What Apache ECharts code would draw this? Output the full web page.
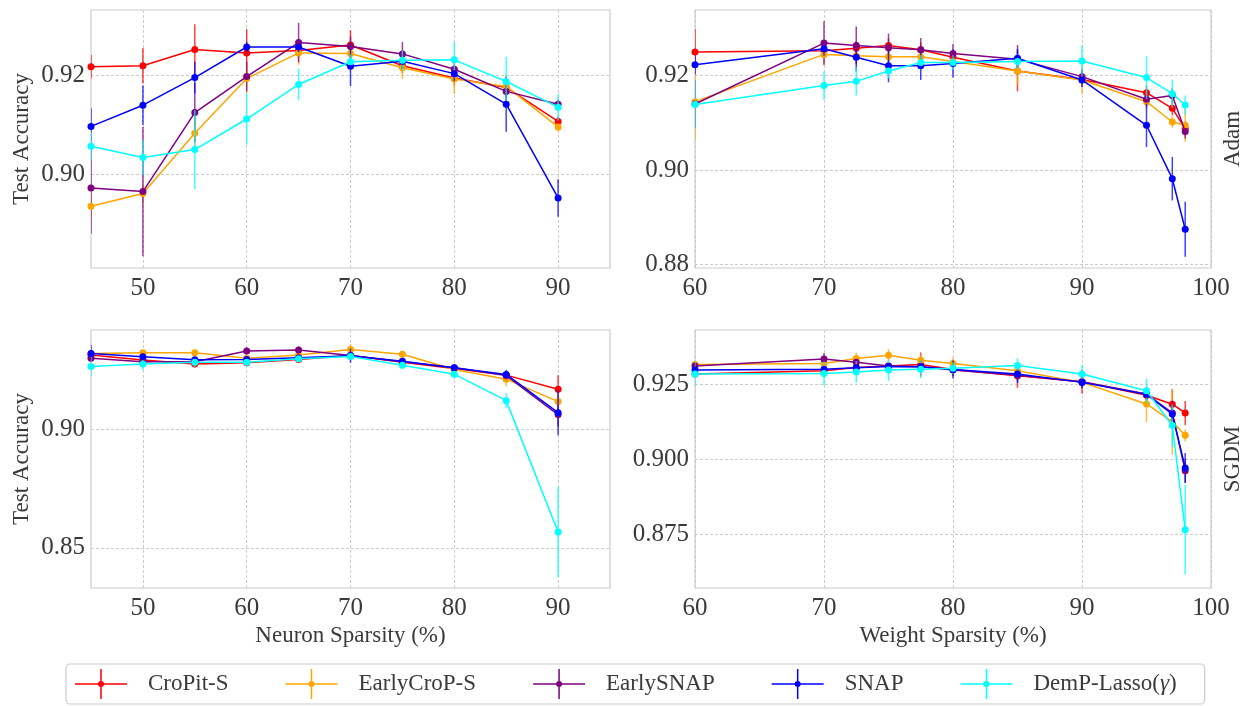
<!DOCTYPE html>
<html>
<head>
<meta charset="utf-8">
<script src="https://cdn.jsdelivr.net/npm/echarts@6/dist/echarts.min.js"></script>
<style>
  html, body { margin: 0; padding: 0; background: #fff; }
  #chart { width: 1243px; height: 706px; }
</style>
</head>
<body>
<div id="chart"></div>
<script>
// ---- data ----
var methods = ["CroPit-S", "EarlyCroP-S", "EarlySNAP", "SNAP", "DemP-Lasso(γ)"];

var neuronX = [45, 50, 55, 60, 65, 70, 75, 80, 85, 90];
var weightX = [60, 70, 72.5, 75, 77.5, 80, 85, 90, 95, 97, 98];

var neuronTicks = [50, 60, 70, 80, 90];
var weightTicks = [60, 70, 80, 90, 100];
var adamNeuronYTicks = [0.90, 0.92];
var adamWeightYTicks = [0.88, 0.90, 0.92];
var sgdmNeuronYTicks = [0.85, 0.90];
var sgdmWeightYTicks = [0.875, 0.900, 0.925];

// Adam, neuron sparsity (rows follow methods)
var adamNeuronMean = [
  [0.9218, 0.9220, 0.9253, 0.9246, 0.9251, 0.9262, 0.9220, 0.9195, 0.9176, 0.9107],
  [0.8935, 0.8961, 0.9083, 0.9194, 0.9246, 0.9245, 0.9216, 0.9193, 0.9178, 0.9096],
  [0.8972, 0.8965, 0.9125, 0.9198, 0.9267, 0.9259, 0.9244, 0.9213, 0.9168, 0.9142],
  [0.9097, 0.9140, 0.9196, 0.9258, 0.9258, 0.9219, 0.9229, 0.9204, 0.9142, 0.8952],
  [0.9057, 0.9034, 0.9050, 0.9112, 0.9182, 0.9228, 0.9231, 0.9232, 0.9188, 0.9136]
];
var adamNeuronErr = [
  [0.0024, 0.0036, 0.0051, 0.0048, 0.0015, 0.0030, 0.0015, 0.0015, 0.0015, 0.0010],
  [0.0020, 0.0020, 0.0030, 0.0030, 0.0024, 0.0015, 0.0022, 0.0030, 0.0020, 0.0010],
  [0.0092, 0.0131, 0.0060, 0.0030, 0.0040, 0.0020, 0.0024, 0.0015, 0.0015, 0.0010],
  [0.0037, 0.0040, 0.0032, 0.0010, 0.0010, 0.0040, 0.0015, 0.0015, 0.0056, 0.0038],
  [0.0028, 0.0035, 0.0080, 0.0052, 0.0032, 0.0015, 0.0020, 0.0036, 0.0050, 0.0027]
];

// Adam, weight sparsity
var adamWeightMean = [
  [0.9250, 0.9253, 0.9258, 0.9264, 0.9255, 0.9239, 0.9210, 0.9192, 0.9164, 0.9131, 0.9088],
  [0.9145, 0.9245, 0.9242, 0.9240, 0.9240, 0.9230, 0.9210, 0.9191, 0.9145, 0.9102, 0.9095],
  [0.9140, 0.9269, 0.9264, 0.9259, 0.9255, 0.9247, 0.9235, 0.9198, 0.9150, 0.9158, 0.9082],
  [0.9223, 0.9257, 0.9239, 0.9221, 0.9221, 0.9226, 0.9237, 0.9191, 0.9095, 0.8982, 0.8875],
  [0.9139, 0.9179, 0.9188, 0.9210, 0.9228, 0.9228, 0.9230, 0.9231, 0.9196, 0.9162, 0.9138]
];
var adamWeightErr = [
  [0.0048, 0.0015, 0.0015, 0.0015, 0.0015, 0.0015, 0.0043, 0.0015, 0.0015, 0.0015, 0.0015],
  [0.0080, 0.0023, 0.0015, 0.0015, 0.0015, 0.0015, 0.0030, 0.0030, 0.0015, 0.0012, 0.0035],
  [0.0050, 0.0046, 0.0040, 0.0030, 0.0025, 0.0020, 0.0030, 0.0015, 0.0015, 0.0015, 0.0015],
  [0.0020, 0.0015, 0.0030, 0.0035, 0.0030, 0.0030, 0.0020, 0.0015, 0.0046, 0.0046, 0.0058],
  [0.0050, 0.0030, 0.0030, 0.0015, 0.0015, 0.0015, 0.0015, 0.0033, 0.0045, 0.0030, 0.0020]
];

// SGDM, neuron sparsity
var sgdmNeuronMean = [
  [0.9316, 0.9295, 0.9278, 0.9283, 0.9297, 0.9314, 0.9285, 0.9259, 0.9231, 0.9171],
  [0.9323, 0.9326, 0.9326, 0.9302, 0.9316, 0.9339, 0.9319, 0.9255, 0.9214, 0.9119],
  [0.9302, 0.9288, 0.9288, 0.9333, 0.9337, 0.9314, 0.9288, 0.9262, 0.9229, 0.9064],
  [0.9323, 0.9309, 0.9296, 0.9297, 0.9305, 0.9313, 0.9290, 0.9262, 0.9234, 0.9072],
  [0.9268, 0.9278, 0.9285, 0.9285, 0.9300, 0.9310, 0.9273, 0.9235, 0.9123, 0.8567]
];
var sgdmNeuronErr = [
  [0.0010, 0.0010, 0.0015, 0.0010, 0.0015, 0.0010, 0.0010, 0.0015, 0.0010, 0.0060],
  [0.0010, 0.0010, 0.0015, 0.0010, 0.0010, 0.0024, 0.0015, 0.0010, 0.0030, 0.0050],
  [0.0010, 0.0010, 0.0010, 0.0015, 0.0015, 0.0010, 0.0010, 0.0010, 0.0010, 0.0050],
  [0.0035, 0.0010, 0.0010, 0.0010, 0.0010, 0.0030, 0.0010, 0.0015, 0.0020, 0.0095],
  [0.0040, 0.0026, 0.0020, 0.0020, 0.0015, 0.0010, 0.0015, 0.0020, 0.0032, 0.0190]
];

// SGDM, weight sparsity
var sgdmWeightMean = [
  [0.9285, 0.9296, 0.9307, 0.9312, 0.9317, 0.9300, 0.9279, 0.9259, 0.9214, 0.9184, 0.9155],
  [0.9317, 0.9320, 0.9337, 0.9348, 0.9331, 0.9320, 0.9296, 0.9257, 0.9185, 0.9125, 0.9080],
  [0.9312, 0.9335, 0.9324, 0.9312, 0.9309, 0.9298, 0.9281, 0.9259, 0.9218, 0.9155, 0.8962],
  [0.9298, 0.9301, 0.9306, 0.9310, 0.9309, 0.9300, 0.9285, 0.9257, 0.9217, 0.9151, 0.8971],
  [0.9285, 0.9287, 0.9292, 0.9298, 0.9301, 0.9304, 0.9313, 0.9285, 0.9229, 0.9113, 0.8765]
];
var sgdmWeightErr = [
  [0.0010, 0.0010, 0.0010, 0.0010, 0.0040, 0.0020, 0.0040, 0.0040, 0.0020, 0.0050, 0.0040],
  [0.0010, 0.0010, 0.0020, 0.0020, 0.0020, 0.0020, 0.0020, 0.0020, 0.0060, 0.0110, 0.0020],
  [0.0010, 0.0020, 0.0020, 0.0010, 0.0010, 0.0020, 0.0020, 0.0020, 0.0020, 0.0040, 0.0040],
  [0.0010, 0.0010, 0.0010, 0.0010, 0.0020, 0.0030, 0.0030, 0.0020, 0.0020, 0.0030, 0.0050],
  [0.0040, 0.0040, 0.0036, 0.0036, 0.0030, 0.0020, 0.0025, 0.0030, 0.0040, 0.0070, 0.0150]
];

// ---- style ----
var colors = ["#ff0000", "#ffa500", "#800080", "#0000ff", "#00ffff"];
var serif = '"Liberation Serif", "DejaVu Serif", serif';
var textColor = "#3a3a3a";
var gridColor = "#cccccc";

var chart = echarts.init(document.getElementById("chart"));

function xAxisFor(gi, min, max, ticks, name) {
  return {
    gridIndex: gi,
    type: "value",
    min: min,
    max: max,
    name: name,
    nameLocation: "middle",
    nameGap: 36,
    nameTextStyle: { fontFamily: serif, fontSize: 23, color: textColor },
    axisLine: { show: false },
    axisTick: { show: false, customValues: ticks },
    axisLabel: {
      customValues: ticks,
      fontFamily: serif,
      fontSize: 25,
      color: textColor,
      margin: 8
    },
    splitLine: { show: true, lineStyle: { color: gridColor, type: [3, 2], width: 1 } }
  };
}

function yAxisFor(gi, min, max, ticks, digits, name) {
  return {
    gridIndex: gi,
    type: "value",
    min: min,
    max: max,
    name: name,
    nameLocation: "middle",
    nameGap: 58,
    nameTextStyle: { fontFamily: serif, fontSize: 23, color: textColor },
    axisLine: { show: false },
    axisTick: { show: false, customValues: ticks },
    axisLabel: {
      customValues: ticks,
      formatter: function (v) { return v.toFixed(digits); },
      fontFamily: serif,
      fontSize: 25,
      color: textColor,
      margin: 6
    },
    splitLine: { show: true, lineStyle: { color: gridColor, type: [3, 2], width: 1 } }
  };
}

function errBar(color) {
  return function (params, api) {
    var x = api.value(0), y = api.value(1), e = api.value(2);
    var lo = api.coord([x, y - e]);
    var hi = api.coord([x, y + e]);
    return {
      type: "line",
      shape: { x1: lo[0], y1: lo[1], x2: hi[0], y2: hi[1] },
      style: { stroke: color, lineWidth: 1.5, opacity: 0.75 }
    };
  };
}

var series = [];
function addPanel(gi, xs, means, errs) {
  for (var m = 0; m < methods.length; m++) {
    var lineData = [], barData = [];
    for (var i = 0; i < xs.length; i++) {
      lineData.push([xs[i], means[m][i]]);
      barData.push([xs[i], means[m][i], errs[m][i]]);
    }
    series.push({
      name: methods[m],
      type: "line",
      xAxisIndex: gi,
      yAxisIndex: gi,
      data: lineData,
      symbol: "circle",
      symbolSize: 7,
      color: colors[m],
      lineStyle: { width: 1.5, color: colors[m] },
      itemStyle: { color: colors[m] },
      z: 3 + m,
      clip: true
    });
    series.push({
      name: methods[m],
      type: "custom",
      xAxisIndex: gi,
      yAxisIndex: gi,
      renderItem: errBar(colors[m]),
      data: barData,
      itemStyle: { color: colors[m] },
      z: 2 + m,
      clip: true,
      silent: true
    });
  }
}

addPanel(0, neuronX, adamNeuronMean, adamNeuronErr);
addPanel(1, weightX, adamWeightMean, adamWeightErr);
addPanel(2, neuronX, sgdmNeuronMean, sgdmNeuronErr);
addPanel(3, weightX, sgdmWeightMean, sgdmWeightErr);

var legendIcon = "path://M0,14.25H52V15.75H0Z M25.25,0H26.75V30H25.25Z M23,15a3,3 0 1,1 6,0a3,3 0 1,1 -6,0Z";
var legendData = methods.map(function (n, i) {
  return { name: n, icon: legendIcon, itemStyle: { color: colors[i] } };
});

var gridBox = { show: true, borderColor: gridColor, borderWidth: 1.2, backgroundColor: "#fff" };

var option = {
  backgroundColor: "#fff",
  animation: false,
  grid: [
    Object.assign({ left: 91, top: 10, width: 519, height: 258 }, gridBox),
    Object.assign({ left: 695, top: 10, width: 516, height: 258 }, gridBox),
    Object.assign({ left: 91, top: 330, width: 519, height: 258 }, gridBox),
    Object.assign({ left: 695, top: 330, width: 516, height: 258 }, gridBox)
  ],
  xAxis: [
    xAxisFor(0, 45, 95, neuronTicks, ""),
    xAxisFor(1, 60, 100, weightTicks, ""),
    xAxisFor(2, 45, 95, neuronTicks, "Neuron Sparsity (%)"),
    xAxisFor(3, 60, 100, weightTicks, "Weight Sparsity (%)")
  ],
  yAxis: [
    yAxisFor(0, 0.881, 0.9333, adamNeuronYTicks, 2, "Test Accuracy"),
    yAxisFor(1, 0.8793, 0.9339, adamWeightYTicks, 2, ""),
    yAxisFor(2, 0.833, 0.9422, sgdmNeuronYTicks, 2, "Test Accuracy"),
    yAxisFor(3, 0.857, 0.9432, sgdmWeightYTicks, 3, "")
  ],
  legend: {
    data: legendData,
    left: 66,
    top: 664,
    orient: "horizontal",
    itemWidth: 52,
    itemHeight: 30,
    itemGap: 57,
    padding: [5, 28, 5, 9],
    borderColor: gridColor,
    borderWidth: 1.2,
    borderRadius: 4,
    textStyle: {
      fontFamily: serif,
      fontSize: 23,
      color: textColor,
      padding: [0, 0, 0, 16],
      rich: { g: { fontFamily: serif, fontSize: 23, fontStyle: "italic", color: textColor } }
    },
    formatter: function (name) { return name.replace("γ", "{g|γ}"); },
    selectedMode: false
  },
  graphic: [
    {
      type: "text", x: 1233, y: 139, rotation: Math.PI / 2,
      style: { text: "Adam", font: '23px "Liberation Serif"', fill: textColor, align: "center", verticalAlign: "middle" }
    },
    {
      type: "text", x: 1233, y: 459, rotation: Math.PI / 2,
      style: { text: "SGDM", font: '23px "Liberation Serif"', fill: textColor, align: "center", verticalAlign: "middle" }
    }
  ],
  series: series
};

chart.setOption(option);
</script>
</body>
</html>
